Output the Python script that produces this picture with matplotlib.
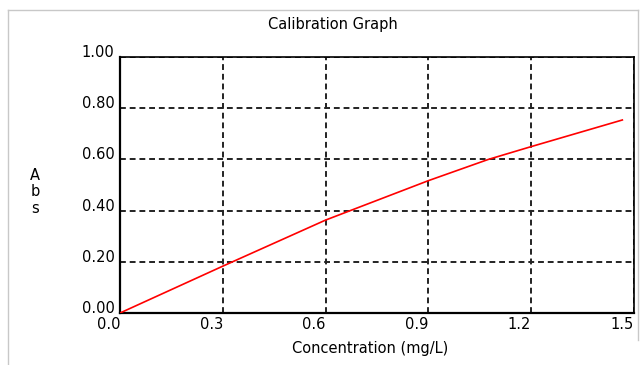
import numpy as np
import matplotlib.pyplot as plt
import matplotlib.transforms as mtransforms
from matplotlib.lines import Line2D

# Calibration curve
conc = [0.0, 0.3, 0.6, 0.9, 1.075, 1.2, 1.466]
absorb = [0.0, 0.183, 0.363, 0.517, 0.6, 0.65, 0.754]

x_ticks = [0.0, 0.3, 0.6, 0.9, 1.2, 1.5]
x_labels = ["0.0", "0.3", "0.6", "0.9", "1.2", "1.5"]
y_ticks = [0.0, 0.2, 0.4, 0.6, 0.8, 1.0]
y_labels = ["0.00", "0.20", "0.40", "0.60", "0.80", "1.00"]

plt.rcParams["font.family"] = ["DejaVu Sans"]
FS = 10.5

W, H = 643, 365
fig = plt.figure(figsize=(W / 100, H / 100), dpi=100)
fig.patch.set_facecolor("white")


def px(x, y):
    # pixel position (from top left) to figure fraction
    return x / W, 1 - y / H


# light window frame (left, top, right)
for (x0, y0), (x1, y1) in [((8, 365), (8, 10)), ((8, 10), (638, 10)),
                           ((638, 10), (638, 340))]:
    a, b = px(x0, y0)
    c, d = px(x1, y1)
    fig.lines.append(Line2D([a, c], [b, d], transform=fig.transFigure,
                            color="#c8c8c8", linewidth=1))

ax = fig.add_axes([120 / W, 1 - 313 / H, 514 / W, 256 / H])
ax.plot(conc, absorb, color="red", linewidth=1.2, zorder=3)

ax.set_xlim(0, 1.5)
ax.set_ylim(0, 1.0)
ax.set_xticks(x_ticks)
ax.set_xticklabels(x_labels, fontsize=FS, ha="right")
ax.set_yticks(y_ticks)
ax.set_yticklabels(y_labels, fontsize=FS)
ax.tick_params(axis="x", length=0, pad=3)
ax.tick_params(axis="y", length=0, pad=4)

# y labels sit a bit above their grid lines
for lab in ax.get_yticklabels():
    lab.set_transform(lab.get_transform()
                      + mtransforms.ScaledTranslation(0, 6 / 100, fig.dpi_scale_trans))

ax.grid(True, color="#222222", linestyle=(0, (3, 2)), linewidth=1.4)
for side in ["left", "bottom"]:
    ax.spines[side].set_linewidth(1.6)
for side in ["top", "right"]:
    ax.spines[side].set_linewidth(1.2)

fig.text(*px(333, 24), "Calibration Graph", ha="center", va="center", fontsize=FS)
fig.text(*px(370, 349), "Concentration (mg/L)", ha="center", va="center", fontsize=FS)
fig.text(*px(35, 192), "A\nb\ns", ha="center", va="center", fontsize=FS,
         linespacing=1.1)

fig.savefig("out.png", dpi=100)
